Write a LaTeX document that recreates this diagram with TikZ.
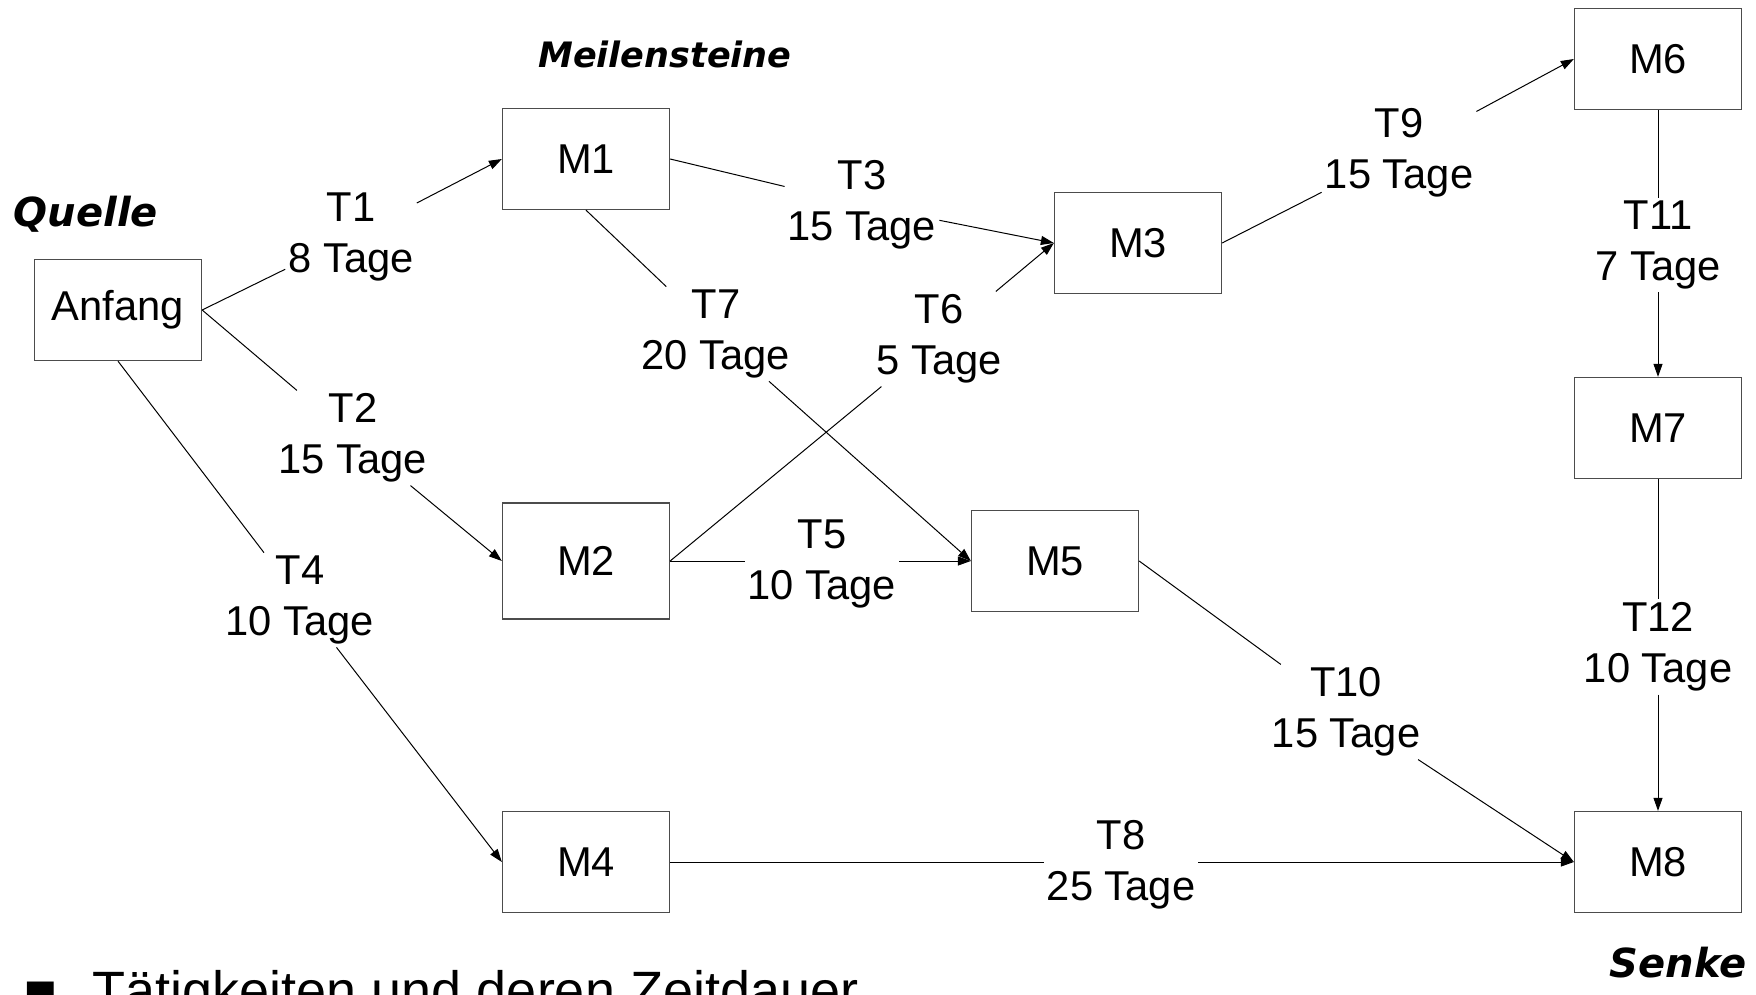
\documentclass[tikz,border=0pt]{standalone}
\usepackage{fontspec}
\setmainfont{Liberation Sans}
\newfontfamily\handfont{DejaVu Sans}
\newfontfamily\bulletfont{DejaVu Sans}
\usetikzlibrary{arrows.meta}
\newcommand\lblfont{\fontsize{41.7pt}{51pt}\selectfont}
\begin{document}
\begin{tikzpicture}[x=1pt,y=-1pt,
  box/.style={draw=black!70, line width=1.3pt, minimum width=167pt, minimum height=101pt, inner sep=0pt, font=\lblfont},
  lab/.style={align=center, inner sep=3pt, font=\lblfont},
  conn/.style={line width=1pt, black},
  arr/.style={conn, -{Triangle[length=13pt,width=9pt]}},
  hand/.style={font=\handfont\bfseries\itshape\fontsize{40pt}{48pt}\selectfont, inner sep=0pt}
]
\useasboundingbox (0,0) rectangle (1756,995);
\clip (0,0) rectangle (1756,995);

% milestones
\node[box] (A)  at (118,310) {Anfang};
\node[box] (M1) at (586,159) {M1};
\node[box, minimum height=116pt] (M2) at (586,561) {M2};
\node[box] (M3) at (1138,243) {M3};
\node[box] (M4) at (586,862) {M4};
\node[box] (M5) at (1055,561) {M5};
\node[box] (M6) at (1658,59) {M6};
\node[box] (M7) at (1658,428) {M7};
\node[box] (M8) at (1658,862) {M8};

% activity labels
\node[lab] (t1)  at (351,237)  {T1\\8 Tage};
\node[lab] (t2)  at (353,438)  {T2\\15 Tage};
\node[lab] (t3)  at (862,205)  {T3\\15 Tage};
\node[lab] (t4)  at (300,600)  {T4\\10 Tage};
\node[lab] (t5)  at (822,564)  {T5\\10 Tage};
\node[lab] (t6)  at (939,339)  {T6\\5 Tage};
\node[lab] (t7)  at (716,334)  {T7\\20 Tage};
\node[lab] (t8)  at (1121,865) {T8\\25 Tage};
\node[lab] (t9)  at (1399,153) {T9\\15 Tage};
\node[lab] (t10) at (1346,712) {T10\\15 Tage};
\node[lab] (t11) at (1658,245) {T11\\7 Tage};
\node[lab] (t12) at (1658,647) {T12\\10 Tage};

% connectors
\draw[conn] (A.east) -- (t1);   \draw[arr] (t1) -- (M1.west);
\draw[conn] (A.east) -- (t2);   \draw[arr] (t2) -- (M2.west);
\draw[conn] (A.south) -- (t4);  \draw[arr] (t4) -- (M4.west);
\draw[conn] (M1.east) -- (t3);  \draw[arr] (t3) -- (M3.west);
\draw[conn] (M1.south) -- (t7); \draw[arr] (t7) -- (M5.west);
\draw[conn] (M2.east) -- (t6);  \draw[arr] (t6) -- (M3.west);
\draw[conn] (M2.east) -- (M2.east -| t5.west);  \draw[arr] (M5.west -| t5.east) -- (M5.west);
\draw[conn] (M3.east) -- (t9);  \draw[arr] (t9) -- (M6.west);
\draw[conn] (M5.east) -- (t10); \draw[arr] (t10) -- (M8.west);
\draw[conn] (M4.east) -- (M4.east -| t8.west);  \draw[arr] (M8.west -| t8.east) -- (M8.west);
\draw[conn] (M6.south) -- (t11); \draw[arr] (t11) -- (M7.north);
\draw[conn] (M7.south) -- (t12); \draw[arr] (t12) -- (M8.north);

% handwritten annotations
\node[hand] (quelle) at (86,214) {Quelle};
\node[hand, font=\handfont\bfseries\itshape\fontsize{35pt}{42pt}\selectfont] (meilen) at (665,54) {Meilensteine};
\node[hand] (senke) at (1678,963) {Senke};

% bottom bullet text (cut off at the lower edge, as in the original)
\node[anchor=base west, inner sep=0pt, font=\fontsize{54pt}{60pt}\selectfont] (bottom) at (22,1009)
  {{\bulletfont\char"25AA}\hspace{34pt}Tätigkeiten und deren Zeitdauer};
\end{tikzpicture}
\end{document}
